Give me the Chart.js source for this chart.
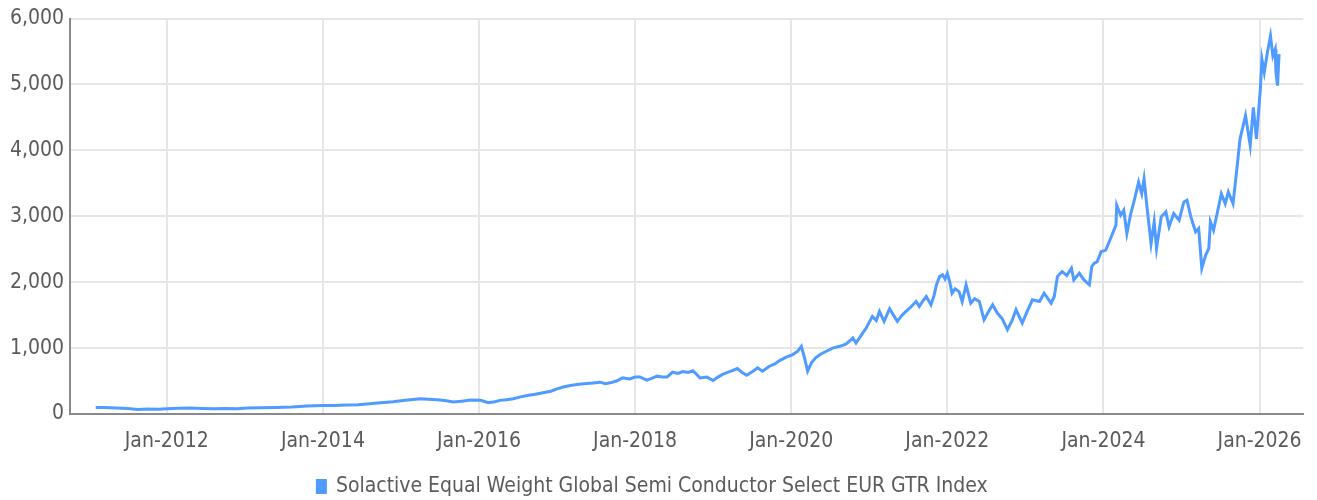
<!DOCTYPE html>
<html>
<head>
<meta charset="utf-8">
<script src="https://cdn.jsdelivr.net/npm/chart.js@4"></script>
<style>
  html, body { margin: 0; padding: 0; background: #fff; }
  #wrap { width: 1317px; height: 500px; }
</style>
</head>
<body>
<div id="wrap"><canvas id="indexChart"></canvas></div>
<script>
// dates as decimal years
const dates = [
  2011.09, 2011.2, 2011.35, 2011.5, 2011.63, 2011.75, 2011.9, 2012.0, 2012.15, 2012.3,
  2012.45, 2012.6, 2012.75, 2012.9, 2013.04, 2013.2, 2013.4, 2013.6, 2013.8, 2014.0,
  2014.15, 2014.3, 2014.45, 2014.6, 2014.74, 2014.9, 2015.0, 2015.12, 2015.25, 2015.35,
  2015.47, 2015.58, 2015.67, 2015.78, 2015.89, 2016.02, 2016.12, 2016.2, 2016.27, 2016.35,
  2016.44, 2016.53, 2016.62, 2016.72, 2016.82, 2016.92, 2017.0, 2017.08, 2017.17, 2017.28,
  2017.38, 2017.46, 2017.55, 2017.62, 2017.68, 2017.76, 2017.84, 2017.93, 2018.0, 2018.06,
  2018.15, 2018.22, 2018.28, 2018.35, 2018.41, 2018.48, 2018.55, 2018.61, 2018.68, 2018.74,
  2018.79, 2018.83, 2018.92, 2019.0, 2019.06, 2019.12, 2019.2, 2019.25, 2019.31, 2019.37,
  2019.43, 2019.5, 2019.57, 2019.63, 2019.68, 2019.72, 2019.79, 2019.85, 2019.93, 2020.02,
  2020.08, 2020.13, 2020.17, 2020.21, 2020.26, 2020.32, 2020.38, 2020.45, 2020.53, 2020.62,
  2020.7, 2020.79, 2020.83, 2020.9, 2020.96, 2021.04, 2021.09, 2021.13, 2021.19, 2021.26,
  2021.31, 2021.36, 2021.42, 2021.47, 2021.53, 2021.6, 2021.64, 2021.69, 2021.73, 2021.79,
  2021.83, 2021.86, 2021.9, 2021.94, 2021.97, 2022.0, 2022.03, 2022.06, 2022.1, 2022.15,
  2022.19, 2022.24, 2022.3, 2022.35, 2022.41, 2022.47, 2022.53, 2022.58, 2022.64, 2022.7,
  2022.77, 2022.83, 2022.88, 2022.96, 2023.02, 2023.09, 2023.18, 2023.24, 2023.33, 2023.37,
  2023.41, 2023.47, 2023.53, 2023.59, 2023.62, 2023.69, 2023.75, 2023.82, 2023.85, 2023.88,
  2023.92, 2023.97, 2024.03, 2024.1, 2024.16, 2024.17, 2024.22, 2024.26, 2024.3, 2024.35,
  2024.39, 2024.45, 2024.49, 2024.52, 2024.56, 2024.61, 2024.65, 2024.68, 2024.74, 2024.8,
  2024.84, 2024.9, 2024.97, 2025.03, 2025.07, 2025.12, 2025.18, 2025.22, 2025.26, 2025.31,
  2025.35, 2025.37, 2025.41, 2025.47, 2025.51, 2025.56, 2025.6, 2025.66, 2025.7, 2025.75,
  2025.77, 2025.82, 2025.88, 2025.92, 2025.96, 2026.01, 2026.03, 2026.06, 2026.1, 2026.14,
  2026.17, 2026.2, 2026.21, 2026.23, 2026.25
];

const values = [
  100, 97, 92, 85, 70, 75, 72, 80, 88, 92,
  85, 80, 82, 80, 92, 95, 98, 105, 120, 130,
  128, 135, 140, 155, 170, 185, 200, 215, 232, 225,
  216, 200, 181, 195, 211, 207, 171, 185, 207, 215,
  232, 260, 282, 300, 322, 345, 382, 410, 433, 450,
  463, 470, 483, 460, 473, 500, 548, 533, 560, 563,
  513, 545, 574, 560, 563, 634, 615, 645, 630, 655,
  600, 548, 560, 509, 560, 600, 640, 660, 690, 630,
  589, 640, 700, 650, 690, 725, 760, 811, 860, 902,
  950, 1027, 850, 650, 780, 861, 910, 952, 1000, 1027,
  1060, 1153, 1077, 1200, 1304, 1481, 1420, 1556, 1405, 1597,
  1500, 1405, 1500, 1556, 1620, 1707, 1632, 1720, 1783, 1657,
  1800, 1960, 2085, 2111, 2050, 2135, 2010, 1833, 1900, 1858,
  1707, 1960, 1682, 1750, 1707, 1430, 1560, 1657, 1531, 1450,
  1280, 1420, 1582, 1380, 1550, 1733, 1707, 1833, 1682, 1783,
  2085, 2161, 2100, 2211, 2035, 2135, 2035, 1960, 2236, 2286,
  2312, 2463, 2488, 2689, 2866, 3168, 3017, 3093, 2739, 3042,
  3218, 3520, 3344, 3570, 3118, 2588, 2916, 2513, 2992, 3067,
  2841, 3042, 2941, 3218, 3244, 2992, 2765, 2815, 2211, 2413,
  2513, 2916, 2790, 3118, 3344, 3193, 3370, 3193, 3622, 4175,
  4276, 4528, 4075, 4654, 4175, 4931, 5384, 5183, 5485, 5737,
  5435, 5535, 5183, 4982, 5460
];

const seriesName = 'Solactive Equal Weight Global Semi Conductor Select EUR GTR Index';
const tickYears = [2012, 2014, 2016, 2018, 2020, 2022, 2024, 2026];
const yTicks = [0, 1000, 2000, 3000, 4000, 5000, 6000];

const fontFamily = "'Liberation Sans Narrow', 'DejaVu Sans Condensed', sans-serif";
const textColor = '#5a5b5d';
const lineColor = '#4f9bff';

const points = dates.map((d, i) => ({ x: d, y: values[i] }));

const ctx = document.getElementById('indexChart').getContext('2d');
const chart = new Chart(ctx, {
  type: 'line',
  data: {
    datasets: [{
      label: seriesName,
      data: points,
      borderColor: lineColor,
      backgroundColor: lineColor,
      borderWidth: 3,
      pointRadius: 0,
      tension: 0,
      fill: false
    }]
  },
  options: {
    responsive: true,
    maintainAspectRatio: false,
    animation: false,
    layout: { padding: { top: 12, right: 12, left: 0, bottom: -7 } },
    plugins: {
      tooltip: { enabled: false },
      legend: {
        position: 'bottom',
        labels: {
          color: textColor,
          font: { family: fontFamily, size: 21 },
          boxWidth: 8,
          boxHeight: 12,
          padding: 4
        }
      }
    },
    scales: {
      x: {
        type: 'linear',
        min: 2010.76,
        max: 2026.56,
        afterBuildTicks: s => { s.ticks = tickYears.map(v => ({ value: v })); },
        afterFit: s => { s.height = 58; },
        ticks: {
          color: textColor,
          font: { family: fontFamily, size: 21 },
          padding: 15,
          maxRotation: 0,
          callback: v => 'Jan-' + v
        },
        grid: { color: '#e6e6e6', lineWidth: 2, drawTicks: false },
        border: { color: '#8a8a8a', width: 2 }
      },
      y: {
        min: 0,
        max: 6000,
        afterBuildTicks: s => { s.ticks = yTicks.map(v => ({ value: v })); },
        afterFit: s => { s.width = 70; },
        ticks: {
          color: textColor,
          font: { family: fontFamily, size: 21 },
          padding: 6,
          callback: v => v.toLocaleString('en-US')
        },
        grid: { color: '#e6e6e6', lineWidth: 2, drawTicks: false },
        border: { color: '#8a8a8a', width: 2 }
      }
    }
  }
});
</script>
</body>
</html>
